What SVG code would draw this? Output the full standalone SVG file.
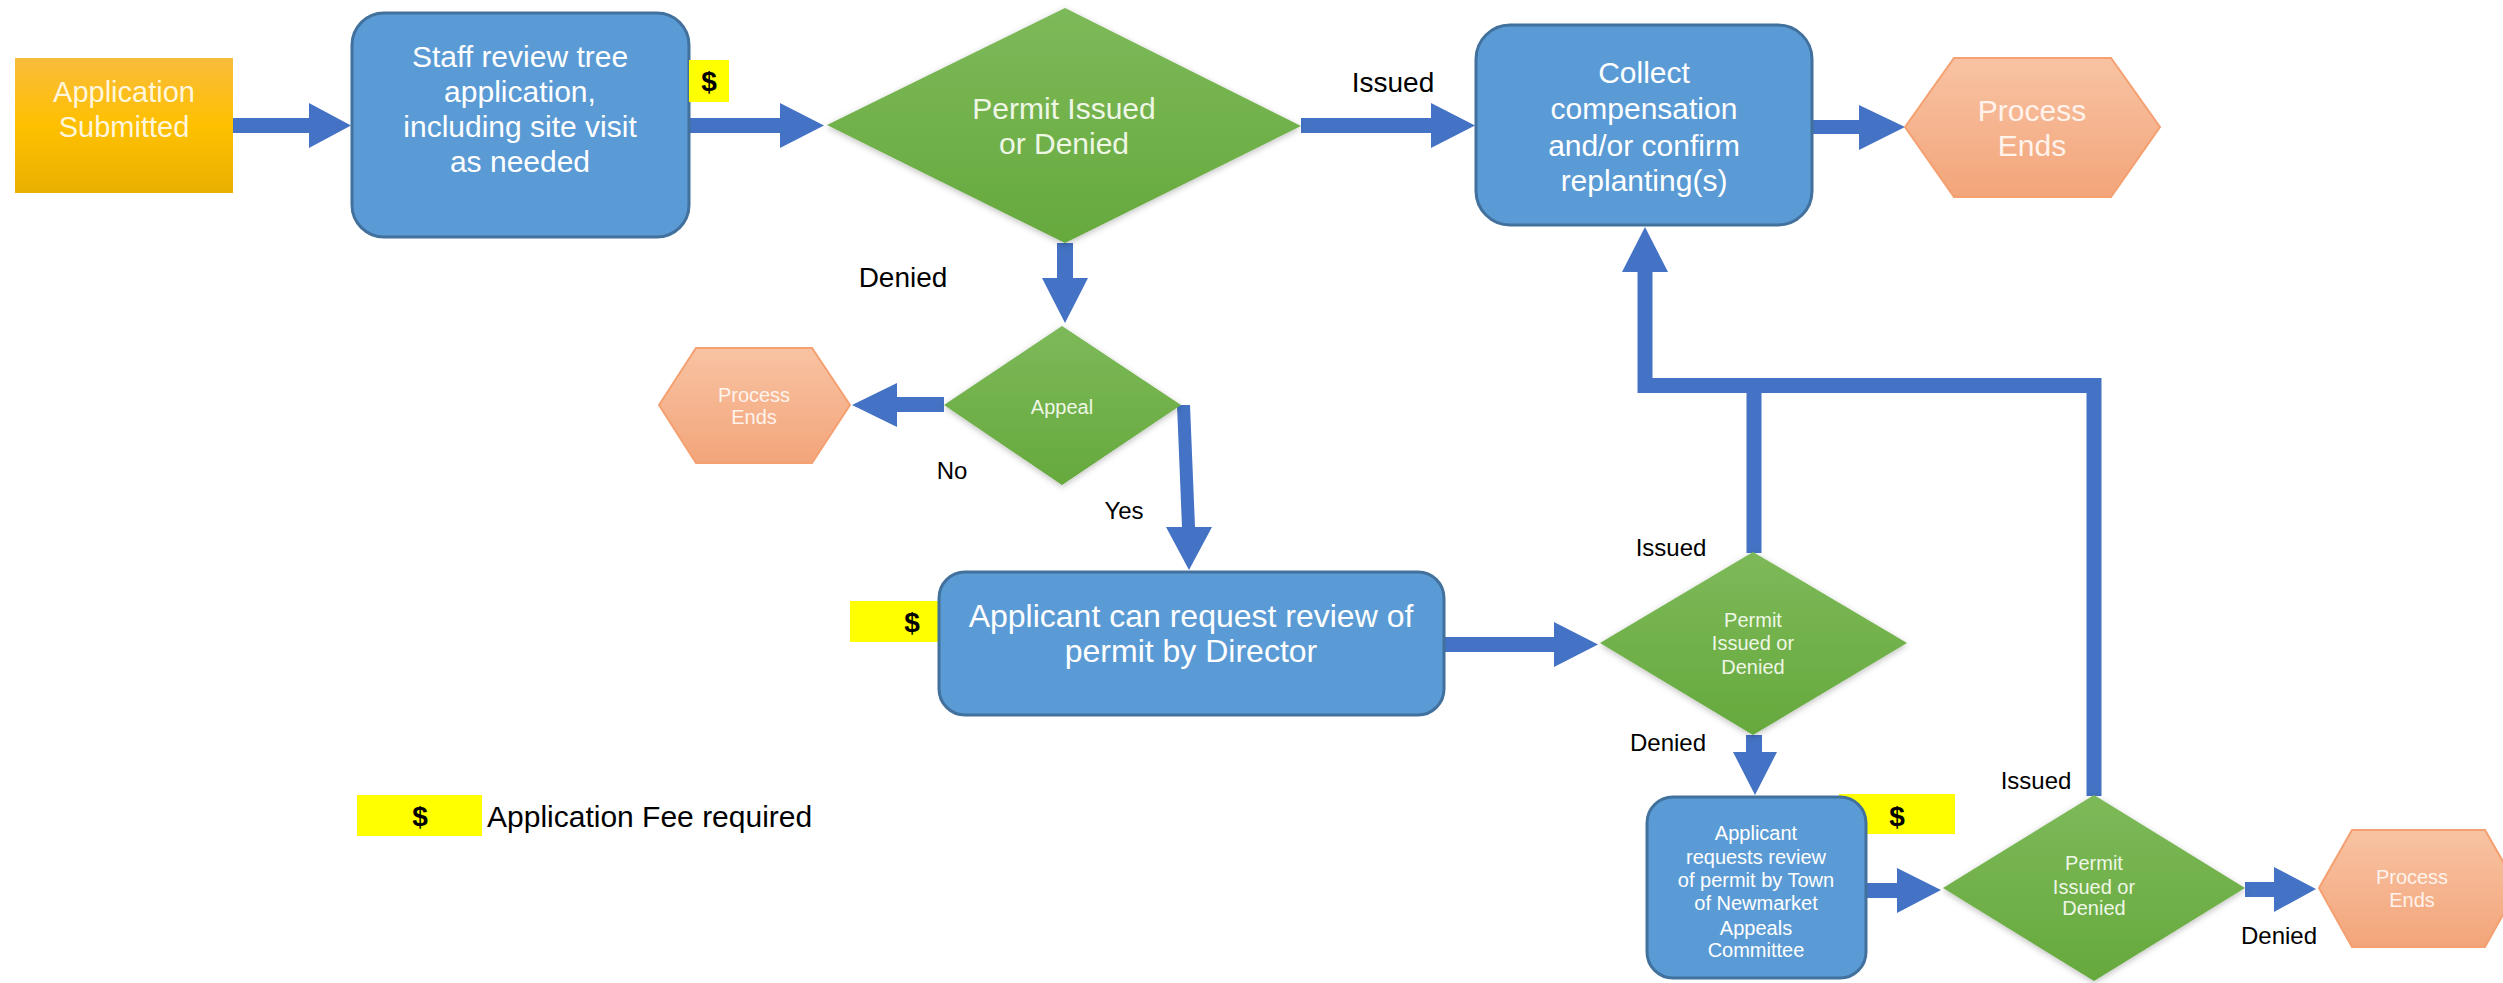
<svg xmlns="http://www.w3.org/2000/svg" width="2503" height="983" viewBox="0 0 2503 983">
<defs>
<linearGradient id="gOrange" x1="0" y1="0" x2="0" y2="1">
<stop offset="0" stop-color="#F8BC3C"/><stop offset="0.5" stop-color="#FFC000"/><stop offset="1" stop-color="#E8B000"/>
</linearGradient>
<linearGradient id="gGreen" x1="0" y1="0" x2="0" y2="1">
<stop offset="0" stop-color="#7DB959"/><stop offset="1" stop-color="#66A93D"/>
</linearGradient>
<linearGradient id="gSalmon" x1="0" y1="0" x2="0" y2="1">
<stop offset="0" stop-color="#F8C3A3"/><stop offset="1" stop-color="#F3A57A"/>
</linearGradient>
<filter id="sh" x="-10%" y="-10%" width="120%" height="120%">
<feDropShadow dx="0" dy="2" stdDeviation="3" flood-color="#000" flood-opacity="0.25"/>
</filter>
<style>
text{font-family:"Liberation Sans",Arial,sans-serif;text-anchor:middle}
.box{fill:#5B9BD5;stroke:#41719C;stroke-width:3}
.dia{fill:url(#gGreen);filter:url(#sh)}
.hex{fill:url(#gSalmon);stroke:#F4A070;stroke-width:2}
.wt{fill:#FFFFFF}
.gt{fill:#EEF7E6}
.ht{fill:#FFF3EC}
.lbl{fill:#000000;font-size:24px}
.fee{fill:#FFFF00}
.dol{fill:#000;font-weight:bold;font-size:28px}
.arr{fill:#4472C4}
.line{fill:none;stroke:#4472C4;stroke-width:15;stroke-linejoin:miter}
</style>
</defs>
<rect width="2503" height="983" fill="#FFFFFF"/>

<g id="connectors">
<polygon class="arr" points="233,118 309,118 309,103 351,125.5 309,148 309,133 233,133"/>
<polygon class="arr" points="689,118 780,118 780,103 824,125.5 780,148 780,133 689,133"/>
<polygon class="arr" points="1301,118 1431,118 1431,103 1475,125.5 1431,148 1431,133 1301,133"/>
<polygon class="arr" points="1812,120 1859,120 1859,105 1905,127 1859,150 1859,134 1812,134"/>
<polygon class="arr" points="1057,243 1073,243 1073,278 1088,278 1065,323 1042,278 1057,278"/>
<polygon class="arr" points="944,397 897,397 897,383 852,405 897,427 897,412 944,412"/>
<polygon class="arr" points="1177,405 1190,405 1195,527 1212,527 1189,570 1166,527 1182,527"/>
<polygon class="arr" points="1444,637 1554,637 1554,622 1598,644.5 1554,667 1554,652 1444,652"/>
<polygon class="arr" points="1746,735 1762,735 1762,752 1777,752 1755,795 1733,752 1746,752"/>
<polygon class="arr" points="1866,883 1897,883 1897,868 1941,890 1897,913 1897,898 1866,898"/>
<polygon class="arr" points="2245,882 2274,882 2274,867 2316,889 2274,912 2274,897 2245,897"/>
<path class="line" d="M2094,796 V385.5 H1645 V268"/>
<path class="line" d="M1754,553 V385.5"/>
<polygon class="arr" points="1622,272 1645,227 1668,272"/>
<text class="lbl" x="1393" y="92" style="font-size:28px">Issued</text>
<text class="lbl" x="903" y="287" style="font-size:28px">Denied</text>
<text class="lbl" x="952" y="479">No</text>
<text class="lbl" x="1124" y="519">Yes</text>
<text class="lbl" x="1671" y="556">Issued</text>
<text class="lbl" x="1668" y="751">Denied</text>
<text class="lbl" x="2036" y="789">Issued</text>
<text class="lbl" x="2279" y="944">Denied</text>
</g>

<g id="n-submitted">
<rect x="15" y="58" width="218" height="135" fill="url(#gOrange)"/>
<text x="124" y="102" font-size="29" fill="#FFF6DC">Application</text>
<text x="124" y="137" font-size="29" fill="#FFF6DC">Submitted</text>
</g>

<g id="n-staff">
<rect class="box" x="352" y="13" width="337" height="224" rx="32"/>
<text class="wt" x="520" y="67" font-size="30">Staff review tree</text>
<text class="wt" x="520" y="102" font-size="30">application,</text>
<text class="wt" x="520" y="137" font-size="30">including site visit</text>
<text class="wt" x="520" y="172" font-size="30">as needed</text>
</g>
<g id="fee-staff">
<rect class="fee" x="689" y="60" width="40" height="42"/>
<text class="dol" x="709" y="91">$</text>
</g>

<g id="n-decision1">
<polygon class="dia" points="827,125 1065,8 1301,126 1065,243"/>
<text class="gt" x="1064" y="119" font-size="30">Permit Issued</text>
<text class="gt" x="1064" y="154" font-size="30">or Denied</text>
</g>

<g id="n-collect">
<rect class="box" x="1476" y="25" width="336" height="200" rx="34"/>
<text class="wt" x="1644" y="83" font-size="30">Collect</text>
<text class="wt" x="1644" y="119" font-size="30">compensation</text>
<text class="wt" x="1644" y="156" font-size="30">and/or confirm</text>
<text class="wt" x="1644" y="191" font-size="30">replanting(s)</text>
</g>

<g id="n-ends1">
<polygon class="hex" points="1905,127 1954,58 2111,58 2160,127 2111,197 1954,197"/>
<text class="ht" x="2032" y="121" font-size="30">Process</text>
<text class="ht" x="2032" y="156" font-size="30">Ends</text>
</g>

<g id="n-appeal">
<polygon class="dia" points="944,405 1062,326 1181,405 1062,485"/>
<text class="gt" x="1062" y="414" font-size="20">Appeal</text>
</g>

<g id="n-ends2">
<polygon class="hex" points="659,405 696,348 812,348 850,405 812,463 696,463"/>
<text class="ht" x="754" y="402" font-size="20">Process</text>
<text class="ht" x="754" y="424" font-size="20">Ends</text>
</g>

<g id="fee-director">
<rect class="fee" x="850" y="601" width="94" height="41"/>
<text class="dol" x="912" y="632">$</text>
</g>
<g id="n-director">
<rect class="box" x="939" y="572" width="505" height="143" rx="26"/>
<text class="wt" x="1191" y="627" font-size="32">Applicant can request review of</text>
<text class="wt" x="1191" y="662" font-size="32">permit by Director</text>
</g>

<g id="n-decision2">
<polygon class="dia" points="1600,643 1753,552 1907,643 1753,735"/>
<text class="gt" x="1753" y="627" font-size="20">Permit</text>
<text class="gt" x="1753" y="650" font-size="20">Issued or</text>
<text class="gt" x="1753" y="674" font-size="20">Denied</text>
</g>

<g id="fee-committee">
<rect class="fee" x="1839" y="794" width="116" height="40"/>
<text class="dol" x="1897" y="826">$</text>
</g>
<g id="n-committee">
<rect class="box" x="1647" y="797" width="219" height="181" rx="26"/>
<text class="wt" x="1756" y="840" font-size="20">Applicant</text>
<text class="wt" x="1756" y="864" font-size="20">requests review</text>
<text class="wt" x="1756" y="887" font-size="20">of permit by Town</text>
<text class="wt" x="1756" y="910" font-size="20">of Newmarket</text>
<text class="wt" x="1756" y="935" font-size="20">Appeals</text>
<text class="wt" x="1756" y="957" font-size="20">Committee</text>
</g>

<g id="n-decision3">
<polygon class="dia" points="1943,888 2094,795 2245,888 2094,981"/>
<text class="gt" x="2094" y="870" font-size="20">Permit</text>
<text class="gt" x="2094" y="894" font-size="20">Issued or</text>
<text class="gt" x="2094" y="915" font-size="20">Denied</text>
</g>

<g id="n-ends3">
<polygon class="hex" points="2319,888 2352,830 2485,830 2518,888 2485,947 2352,947"/>
<text class="ht" x="2412" y="884" font-size="20">Process</text>
<text class="ht" x="2412" y="907" font-size="20">Ends</text>
</g>

<g id="legend">
<rect class="fee" x="357" y="795" width="125" height="41"/>
<text class="dol" x="420" y="826">$</text>
<text x="487" y="827" font-size="30" fill="#000" style="text-anchor:start">Application Fee required</text>
</g>
</svg>
